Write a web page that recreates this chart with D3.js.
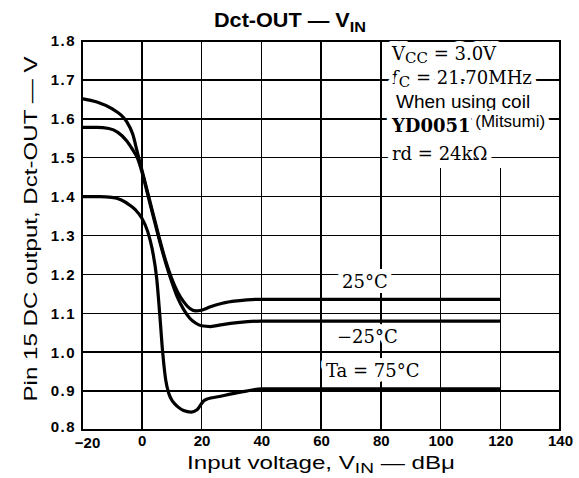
<!DOCTYPE html>
<html><head><meta charset="utf-8">
<script src="https://cdn.jsdelivr.net/npm/d3@7"></script>
<style>
body{margin:0;background:#fff}
svg{display:block}
</style></head>
<body>
<svg id="c" width="579" height="478"></svg>
<script>
// ---- data ----
const xTicks = [-20, 0, 20, 40, 60, 80, 100, 120, 140];
const yTicks = [0.8, 0.9, 1.0, 1.1, 1.2, 1.3, 1.4, 1.5, 1.6, 1.7, 1.8];
const yTickLabels = ["0.8","0.9","1.0","1.1","1.2","1.3","1.4","1.5","1.6","1.7","1.8"];
const seriesNames = ["25°C", "−25°C", "Ta = 75°C"];
const t25 = [[-20,1.652],[-15,1.643],[-10,1.626],[-7,1.61],[-5,1.592],[-3,1.56],[-1.5,1.515],[0,1.47],[2,1.41],[4,1.35],[6,1.29],[8,1.235],[10,1.19],[12,1.155],[14,1.13],[16,1.113],[18,1.106],[20,1.108],[23,1.117],[27,1.126],[32,1.132],[40,1.136],[120,1.136]];
const tm25 = [[-20,1.578],[-15,1.578],[-11,1.575],[-8,1.565],[-5,1.543],[-3,1.52],[-1.5,1.5],[0,1.465],[2,1.405],[4,1.345],[6,1.285],[8,1.23],[10,1.182],[12,1.14],[14,1.11],[16,1.088],[18,1.075],[20,1.068],[23,1.066],[27,1.071],[32,1.076],[40,1.08],[120,1.08]];
const t75 = [[-20,1.40],[-14,1.40],[-10,1.398],[-7,1.392],[-4,1.378],[-2,1.365],[0,1.345],[2,1.31],[3.5,1.265],[5,1.19],[6,1.1],[7,1.0],[8,0.93],[9,0.895],[10.5,0.872],[12,0.86],[14,0.85],[16.5,0.846],[18.5,0.852],[19.5,0.862],[20.5,0.873],[22,0.88],[26,0.886],[30,0.893],[35,0.9],[40,0.906],[120,0.906]];

// ---- scales ----
const svg = d3.select("#c");
const x = d3.scaleLinear().domain([-20, 140]).range([82, 560]);
const y = d3.scaleLinear().domain([0.8, 1.8]).range([430, 41]);
const sans = "'Liberation Sans', Arial, sans-serif";
const serif = "'DejaVu Serif', 'Liberation Serif', serif";

// grid
const g = svg.append("g").attr("shape-rendering", "crispEdges");
g.selectAll(".vx").data(xTicks.filter(d => d > -20 && d < 140)).join("line")
  .attr("x1", d => x(d)).attr("x2", d => x(d)).attr("y1", y(1.8)).attr("y2", y(0.8))
  .attr("stroke", "#000").attr("stroke-width", 1.5);
g.selectAll(".hy").data(yTicks.filter(d => d > 0.8 && d < 1.8)).join("line")
  .attr("x1", x(-20)).attr("x2", x(140)).attr("y1", d => y(d)).attr("y2", d => y(d))
  .attr("stroke", "#000").attr("stroke-width", 1.5);

// annotation box (white area right of 80 gridline, top)
g.append("rect").attr("x", x(80) + 1.5).attr("y", y(1.8)).attr("width", x(140) - x(80) - 2.5).attr("height", y(1.5) - y(1.8) + 10)
  .attr("fill", "#fff");
g.selectAll(".hb").data([1.7, 1.6, 1.5]).join("line")
  .attr("x1", x(80)).attr("x2", x(140)).attr("y1", d => y(d)).attr("y2", d => y(d))
  .attr("stroke", "#000").attr("stroke-width", 1.5);

// frame
svg.append("rect").attr("x", x(-20)).attr("y", y(1.8)).attr("width", x(140) - x(-20)).attr("height", y(0.8) - y(1.8))
  .attr("fill", "none").attr("stroke", "#000").attr("stroke-width", 2).attr("shape-rendering", "crispEdges");

// halo text helper
function halo(sel) {
  return sel.attr("paint-order", "stroke").attr("stroke", "#fff").attr("stroke-width", 10).attr("stroke-linejoin", "round");
}

// box annotations
const ann = svg.append("g").attr("font-family", serif).attr("fill", "#000");
let t = halo(ann.append("text").attr("x", 392).attr("y", 60).attr("font-size", 18).attr("font-weight", 500));
t.append("tspan").text("V");
t.append("tspan").attr("font-size", 15).attr("dy", 3).text("CC");
t.append("tspan").attr("dy", -3).text(" = 3.0V");
t = halo(ann.append("text").attr("x", 392).attr("y", 84).attr("font-size", 18));
t.append("tspan").text("f");
t.append("tspan").attr("font-size", 15).attr("dy", 3).text("C");
t.append("tspan").attr("dy", -3).text(" = 21.70MHz");
halo(ann.append("text").attr("x", 396).attr("y", 108).attr("font-family", sans).attr("font-size", 19).text("When using coil"));
t = halo(ann.append("text").attr("x", 392).attr("y", 132).attr("font-size", 18).attr("font-weight", "bold"));
t.append("tspan").text("YD0051");
t.append("tspan").attr("font-family", sans).attr("font-weight", "normal").attr("font-size", 17).attr("dy", -5).text(" (Mitsumi)");
halo(ann.append("text").attr("x", 392).attr("y", 160).attr("font-size", 18).text("rd = 24kΩ"));

// series labels
halo(ann.append("text").attr("x", 342).attr("y", 288).attr("font-size", 18).text(seriesNames[0]));
halo(ann.append("text").attr("x", 337).attr("y", 343).attr("font-size", 18).text(seriesNames[1]));
halo(ann.append("text").attr("x", 326).attr("y", 377).attr("font-size", 18).text(seriesNames[2]));

// curves
const line = d3.line().x(d => x(d[0])).y(d => y(d[1])).curve(d3.curveMonotoneX);
svg.selectAll(".curve").data([t25, tm25, t75]).join("path")
  .attr("d", line).attr("fill", "none").attr("stroke", "#000").attr("stroke-width", 3.2).attr("stroke-linejoin", "round");

// axes labels
const yAxis = d3.axisLeft(y).tickValues(yTicks).tickFormat((d, i) => yTickLabels[i]).tickSize(0).tickPadding(6);
const ya = svg.append("g").attr("transform", `translate(${x(-20)},0)`).call(yAxis);
ya.select(".domain").remove();
ya.selectAll("text").attr("font-family", sans).attr("font-weight", "bold").attr("font-size", 15).attr("letter-spacing", 1.5).attr("fill", "#000");
ya.selectAll(".tick").filter(d => d === 0.8).select("text").attr("dy", "0.1em");

const xAxis = d3.axisBottom(x).tickValues(xTicks).tickFormat(d3.format("d")).tickSize(0).tickPadding(5);
const xa = svg.append("g").attr("transform", `translate(0,${y(0.8)})`).call(xAxis);
xa.select(".domain").remove();
xa.selectAll("text").attr("font-family", sans).attr("font-weight", "bold").attr("font-size", 15).attr("fill", "#000");
xa.selectAll(".tick").filter(d => d === -20).select("text").attr("dx", 5).attr("dy", "0.85em");

// title
t = svg.append("text").attr("x", 290).attr("y", 27).attr("text-anchor", "middle").attr("font-family", sans).attr("font-weight", "bold").attr("font-size", 20)
  .attr("textLength", 152).attr("lengthAdjust", "spacingAndGlyphs");
t.append("tspan").text("Dct-OUT — V");
t.append("tspan").attr("font-size", 15).attr("dy", 5).text("IN");

// x label
t = svg.append("text").attr("x", 321).attr("y", 469).attr("text-anchor", "middle").attr("font-family", sans).attr("font-size", 19)
  .attr("textLength", 268).attr("lengthAdjust", "spacingAndGlyphs");
t.append("tspan").text("Input voltage, V");
t.append("tspan").attr("font-size", 15).attr("dy", 4).text("IN");
t.append("tspan").attr("dy", -4).text(" — dBμ");

// y label
svg.append("text").attr("transform", "translate(37,229) rotate(-90)").attr("text-anchor", "middle")
  .attr("font-family", sans).attr("font-size", 19).attr("textLength", 345).attr("lengthAdjust", "spacingAndGlyphs")
  .text("Pin 15 DC output, Dct-OUT — V");
</script>
</body></html>
